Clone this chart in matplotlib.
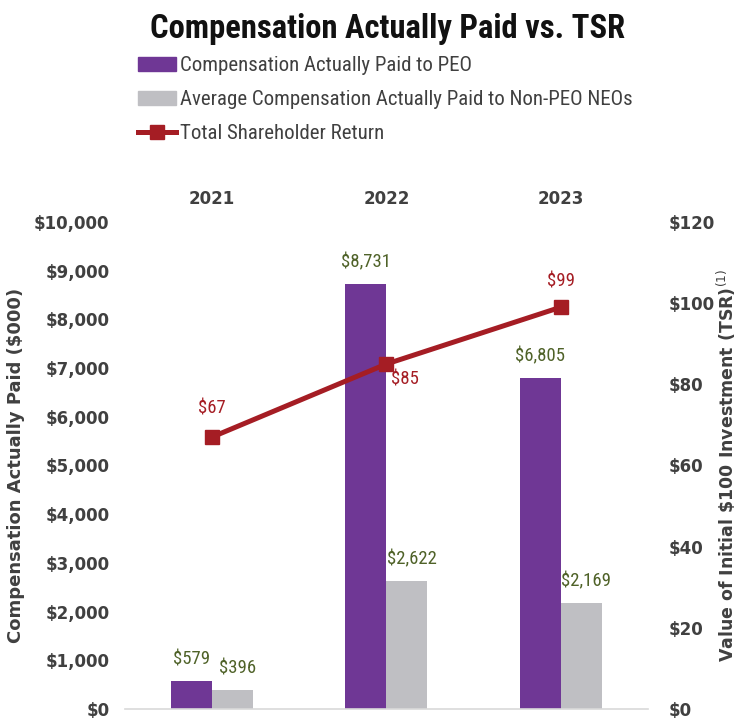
import matplotlib.pyplot as plt
import numpy as np
from matplotlib.lines import Line2D
from matplotlib.patches import Patch

# Dữ liệu
years = ['2021', '2022', '2023']
peo_cap = [579, 8731, 6805]
neo_cap = [396, 2622, 2169]
tsr = [67, 85, 99]
left_ticks = [0, 1000, 2000, 3000, 4000, 5000, 6000, 7000, 8000, 9000, 10000]
right_ticks = [0, 20, 40, 60, 80, 100, 120]

purple = '#6f3795'
grey = '#bfbfc3'
red = '#a51d24'
olive = '#4f6228'
txt = '#404040'

cond = ['Roboto Condensed', 'DejaVu Sans']
wide = ['DejaVu Sans']
plt.rcParams['font.family'] = cond
plt.rcParams['mathtext.fontset'] = 'dejavusans'

fig = plt.figure(figsize=(7.43, 7.2), dpi=100)
ax = fig.add_axes([0.168, 0.0153, 0.704, 0.6764])
ax2 = ax.twinx()

x = np.arange(len(years))
w = 0.235
ax.bar(x - w / 2, peo_cap, w, color=purple, zorder=2)
ax.bar(x + w / 2, neo_cap, w, color=grey, zorder=2)

# nhãn giá trị cột
for i in range(len(years)):
    ax.annotate(f'${peo_cap[i]:,}', (x[i] - w / 2, peo_cap[i]), xytext=(0, 9),
                textcoords='offset points', ha='center', va='bottom', color=olive, fontsize=13.5)
    ax.annotate(f'${neo_cap[i]:,}', (x[i] + w / 2 + 0.03, neo_cap[i]), xytext=(0, 9),
                textcoords='offset points', ha='center', va='bottom', color=olive, fontsize=13.5)

ax2.plot(x, tsr, color=red, lw=3.6, marker='s', ms=9.5, zorder=3)
offs = [(0, 14, 'center', 'bottom'), (3, -11, 'left', 'center'), (0, 12, 'center', 'bottom')]
for i in range(len(years)):
    dx, dy, ha, va = offs[i]
    ax2.annotate(f'${tsr[i]}', (x[i], tsr[i]), xytext=(dx, dy), textcoords='offset points',
                 ha=ha, va=va, color=red, fontsize=13.5)

ax.set_xlim(-0.5, 2.5)
ax.set_ylim(0, 10000)
ax2.set_ylim(0, 120)
ax.set_yticks(left_ticks)
ax.set_yticklabels([f'${v:,}' for v in left_ticks])
ax2.set_yticks(right_ticks)
ax2.set_yticklabels([f'${v}' for v in right_ticks])
ax.set_xticks(x)
ax.set_xticklabels(years)
ax.xaxis.tick_top()

ax.tick_params(axis='y', length=0, pad=11, labelsize=12, labelcolor=txt)
ax2.tick_params(axis='y', length=0, pad=15, labelsize=12, labelcolor=txt)
ax.tick_params(axis='x', length=0, pad=10, labelsize=12, labelcolor=txt)
for lbl in ax.get_yticklabels() + ax2.get_yticklabels() + ax.get_xticklabels():
    lbl.set_fontweight('bold')
    lbl.set_family(wide)

for a in (ax, ax2):
    for s in a.spines.values():
        s.set_visible(False)
ax.spines['bottom'].set_visible(True)
ax.spines['bottom'].set_color('#d9d9d9')
ax.spines['bottom'].set_linewidth(1.2)

ax.set_ylabel('Compensation Actually Paid ($000)', fontsize=13, fontweight='bold',
              color=txt, family=wide)
ax.yaxis.set_label_coords(-0.19, 0.5)
ax2.set_ylabel(r'Value of Initial \$100 Investment (TSR)$^{(1)}$', fontsize=12.5,
               fontweight='bold', color=txt, family=wide)
ax2.yaxis.set_label_coords(1.128, 0.5)

fig.text(0.522, 0.96, 'Compensation Actually Paid vs. TSR', ha='center', va='center',
         fontsize=23.5, fontweight='bold', color='#111111')

handles = [Patch(color=purple), Patch(color=grey),
           Line2D([0], [0], color=red, lw=3.6, marker='s', ms=9.5)]
labels = ['Compensation Actually Paid to PEO',
          'Average Compensation Actually Paid to Non-PEO NEOs',
          'Total Shareholder Return']
fig.legend(handles, labels, loc='upper left', bbox_to_anchor=(0.186, 0.922), frameon=False,
           fontsize=15, labelcolor=txt, handlelength=1.8, handletextpad=0.2,
           labelspacing=0.72, borderpad=0, borderaxespad=0)

fig.savefig('out.png', dpi=100)
